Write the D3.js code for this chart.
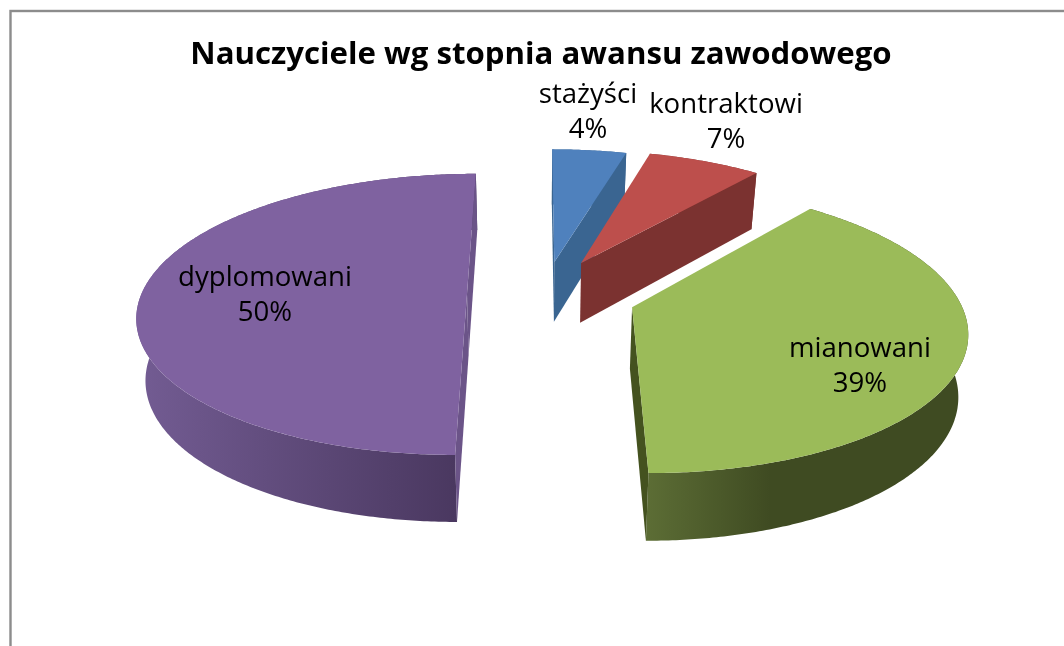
<!DOCTYPE html>
<html lang="pl">
<head>
<meta charset="utf-8">
<script src="https://cdn.jsdelivr.net/npm/d3@7"></script>
<style>
  html, body { margin: 0; background: #fff; }
  svg { display: block; filter: blur(0.45px); }
  text { font-family: "Open Sans", sans-serif; fill: #000; text-anchor: middle; }
</style>
</head>
<body>
<div id="chart"></div>
<script>
const chartTitle = 'Nauczyciele wg stopnia awansu zawodowego';
const categories = ['stażyści', 'kontraktowi', 'mianowani', 'dyplomowani'];
const values = [4.3, 6.6, 39.1, 50];

// styles per slice
const topColors = ['#4f81bd', '#bd4f4c', '#9bbb59', '#7f62a0'];
const sideColors = ['#3a6591', '#7b3230', '#44521f', '#6b5488'];
const rimStart = ['#3a6591', '#7b3230', '#5c6d35', '#735c93'];
const rimEnd = ['#3a6591', '#7b3230', '#3f4b22', '#4a3860'];
const rimFrom = [550, 580, 647, 137];
const rimTo = [630, 755, 770, 456];
// how far each slice is pulled out of the pie, in radius units
const explodeX = [0.055, 0.14, 0.288, -0.215];
const explodeY = [-0.24, -0.233, 0.095, 0];
// label centres, px
const labelX = [588, 726, 860, 265];
const labelY = [103, 113, 357, 286];

const width = 1064;
const height = 646;

// perspective of the pie plane
const vanishX = 537;
const vanishY = -655;
const radiusX = 325.6;
const planeTop = 949;
const thickness = 61;
const tilt = 0.145;
const bottomScale = 0.977;

function project(x, y, bottom) {
    const w = 1 - tilt * y;
    return [
        vanishX + (bottom ? bottomScale : 1) * radiusX * x / w,
        vanishY + planeTop / w + (bottom ? thickness / Math.pow(w, 0.6) : 0)
    ];
}

function signedArea(pts) {
    return d3.sum(pts, (p, i) => {
        const q = pts[(i + 1) % pts.length];
        return p[0] * q[1] - q[0] * p[1];
    }) / 2;
}

const svg = d3.select('#chart').append('svg')
    .attr('width', width)
    .attr('height', height);

// chart frame, right and bottom edge fall outside the picture
svg.append('rect')
    .attr('x', 10.5).attr('y', 11)
    .attr('width', width + 20).attr('height', height + 20)
    .attr('fill', '#fff')
    .attr('stroke', '#8c8c8c')
    .attr('stroke-width', 2.4);

const defs = svg.append('defs');
const line = d3.line();
const pie = d3.pie().sort(null).startAngle(0).endAngle(2 * Math.PI);
const arcs = pie(values);

arcs.forEach((arc, i) => {
    const grad = defs.append('linearGradient')
        .attr('id', `rim${i}`)
        .attr('gradientUnits', 'userSpaceOnUse')
        .attr('x1', rimFrom[i]).attr('x2', rimTo[i])
        .attr('y1', 0).attr('y2', 0);
    grad.append('stop').attr('offset', 0).attr('stop-color', rimStart[i]);
    grad.append('stop').attr('offset', 1).attr('stop-color', rimEnd[i]);

    const ex = explodeX[i];
    const ey = explodeY[i];
    const point = (a, bottom) => project(ex + Math.sin(a), ey - Math.cos(a), bottom);
    const steps = Math.ceil((arc.endAngle - arc.startAngle) / 0.01);
    const angles = d3.range(steps + 1)
        .map(k => arc.startAngle + (arc.endAngle - arc.startAngle) * k / steps);

    const apexTop = project(ex, ey, false);
    const apexBottom = project(ex, ey, true);
    const rimTop = angles.map(a => point(a, false));
    const rimBottom = angles.map(a => point(a, true));

    const g = svg.append('g').attr('class', 'slice');

    // outer wall
    g.append('path')
        .attr('d', line(rimTop.concat(rimBottom.slice().reverse())) + 'Z')
        .attr('fill', `url(#rim${i})`);

    // cut faces, only the ones turned to the viewer
    const startWall = [apexTop, rimTop[0], rimBottom[0], apexBottom];
    const endWall = [apexTop, rimTop[steps], rimBottom[steps], apexBottom];
    if (signedArea(startWall) < 0) {
        g.append('path').attr('d', line(startWall) + 'Z').attr('fill', sideColors[i]);
    }
    if (signedArea(endWall) > 0) {
        g.append('path').attr('d', line(endWall) + 'Z').attr('fill', sideColors[i]);
    }

    // top face
    g.append('path')
        .attr('d', line([apexTop].concat(rimTop)) + 'Z')
        .attr('fill', topColors[i]);
});

svg.append('text')
    .attr('x', 541).attr('y', 64)
    .attr('font-size', 31.2)
    .attr('font-weight', 700)
    .text(chartTitle);

arcs.forEach((arc, i) => {
    const label = svg.append('text').attr('font-size', 27.6);
    label.append('tspan')
        .attr('x', labelX[i]).attr('y', labelY[i])
        .text(categories[i]);
    label.append('tspan')
        .attr('x', labelX[i]).attr('y', labelY[i] + 35)
        .text(`${Math.round(arc.value)}%`);
});
</script>
</body>
</html>
